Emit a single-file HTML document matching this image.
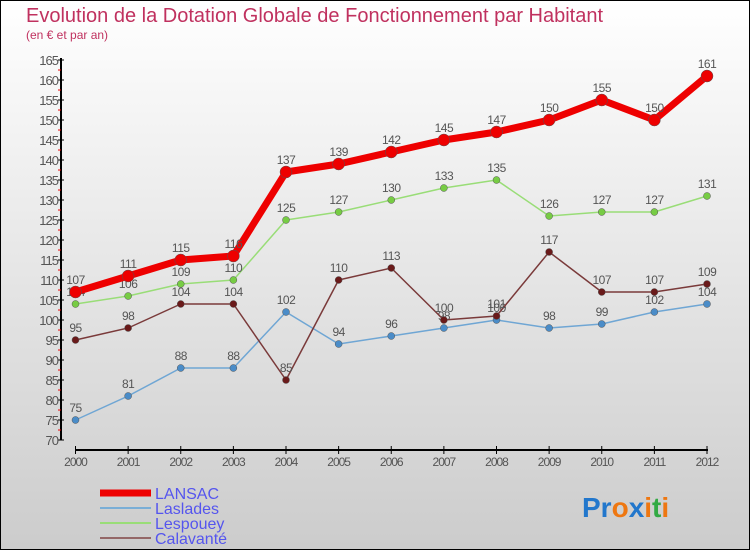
<!DOCTYPE html>
<html><head><meta charset="utf-8"><style>
body{margin:0}
svg text{font-family:"Liberation Sans",sans-serif}
</style></head><body>
<svg id="c" width="750" height="550" xmlns="http://www.w3.org/2000/svg">
<defs><linearGradient id="bg" x1="0" y1="0" x2="0" y2="1"><stop offset="0" stop-color="#ffffff"/><stop offset="1" stop-color="#cccccc"/></linearGradient></defs>
<rect x="0.5" y="0.5" width="749" height="549" fill="url(#bg)" stroke="#000"/>
<text x="26" y="22" font-size="20" fill="#c0315f">Evolution de la Dotation Globale de Fonctionnement par Habitant</text>
<text x="26" y="39" font-size="12" fill="#c0315f">(en € et par an)</text>
<g id="axes"></g><g id="series"></g>
<g>
<line x1="100" y1="493" x2="151" y2="493" stroke="#ee0000" stroke-width="7"/>
<text x="155" y="499" font-size="16" fill="#5555ee">LANSAC</text>
<line x1="100" y1="508" x2="151" y2="508" stroke="#7aaed6" stroke-width="2"/>
<text x="155" y="514" font-size="16" fill="#5555ee">Laslades</text>
<line x1="100" y1="523" x2="151" y2="523" stroke="#99dd77" stroke-width="2"/>
<text x="155" y="529" font-size="16" fill="#5555ee">Lespouey</text>
<line x1="100" y1="538" x2="151" y2="538" stroke="#946767" stroke-width="2"/>
<text x="155" y="544" font-size="16" fill="#5555ee">Calavanté</text>
</g>
<text x="582" y="517" font-size="28" font-weight="bold"><tspan fill="#2277cc">Pr</tspan><tspan fill="#ee7711">o</tspan><tspan fill="#2277cc">x</tspan><tspan fill="#ee7711">i</tspan><tspan fill="#33aa44">t</tspan><tspan fill="#ee7711">i</tspan></text>
</svg>
<script>
const years=[2000,2001,2002,2003,2004,2005,2006,2007,2008,2009,2010,2011,2012];
const lansac=[107,111,115,116,137,139,142,145,147,150,155,150,161];
const laslades=[75,81,88,88,102,94,96,98,100,98,99,102,104];
const lespouey=[104,106,109,110,125,127,130,133,135,126,127,127,131];
const calavante=[95,98,104,104,85,110,113,100,101,117,107,107,109];
const yTicks=[70,75,80,85,90,95,100,105,110,115,120,125,130,135,140,145,150,155,160,165];
const NS="http://www.w3.org/2000/svg";
const xs=i=>75.5+i*(707-75.5)/(years.length-1);
const ys=v=>440-(v-70)*4;
function mk(t,a,p){const e=document.createElementNS(NS,t);for(const k in a)e.setAttribute(k,a[k]);p.appendChild(e);return e;}
const ax=document.getElementById('axes');
let e=mk('line',{x1:61,y1:58,x2:61,y2:440,stroke:'#000','stroke-width':2},ax);


e=mk('line',{x1:75,y1:450,x2:708,y2:450,stroke:'#000','stroke-width':2},ax);


yTicks.forEach(v=>{
 mk('line',{x1:58,y1:ys(v),x2:64,y2:ys(v),stroke:'#000'},ax);
 if(v<165) mk('line',{x1:58,y1:ys(v+2.5),x2:61,y2:ys(v+2.5),stroke:'#e00'},ax);
 const t=mk('text',{x:58,y:ys(v)+5,'font-size':13,fill:'#555','text-anchor':'end','letter-spacing':'-1'},ax);
 t.textContent=v;
 
 
});
years.forEach((y,i)=>{
 mk('line',{x1:xs(i),y1:446,x2:xs(i),y2:454,stroke:'#000'},ax);
 const t=mk('text',{x:xs(i),y:466,'font-size':12,fill:'#555','text-anchor':'middle','letter-spacing':'-1'},ax);
 t.textContent=y;
 
 
});
const sg=document.getElementById('series');
function draw(d,name,col,w,r,dot){
 const g=mk('g',{},sg);
 
 
 const l=mk('polyline',{points:d.map((v,i)=>xs(i)+','+ys(v)).join(' '),fill:'none',stroke:col,'stroke-width':w,'stroke-linejoin':'round'},g);
 
 
 d.forEach((v,i)=>{
  const c=mk('circle',{cx:xs(i),cy:ys(v),r:r,fill:dot,stroke:'#555','stroke-width':0.5},g);
  
  
  const t=mk('text',{x:xs(i),y:ys(v)-8,'font-size':12,fill:'#555','text-anchor':'middle','letter-spacing':'-0.5'},g);
  t.textContent=v;
  
  
 });
}
draw(laslades,'laslades','#6fa6d4',1.5,3.5,'#4a8cc8');
draw(lespouey,'lespouey','#99dd77',1.5,3.5,'#77cc44');
draw(calavante,'calavante','#7a3a3a',1.5,3.5,'#6a1a1a');
draw(lansac,'lansac','#ee0000',7,6,'#ee0000');
</script>
</body></html>
